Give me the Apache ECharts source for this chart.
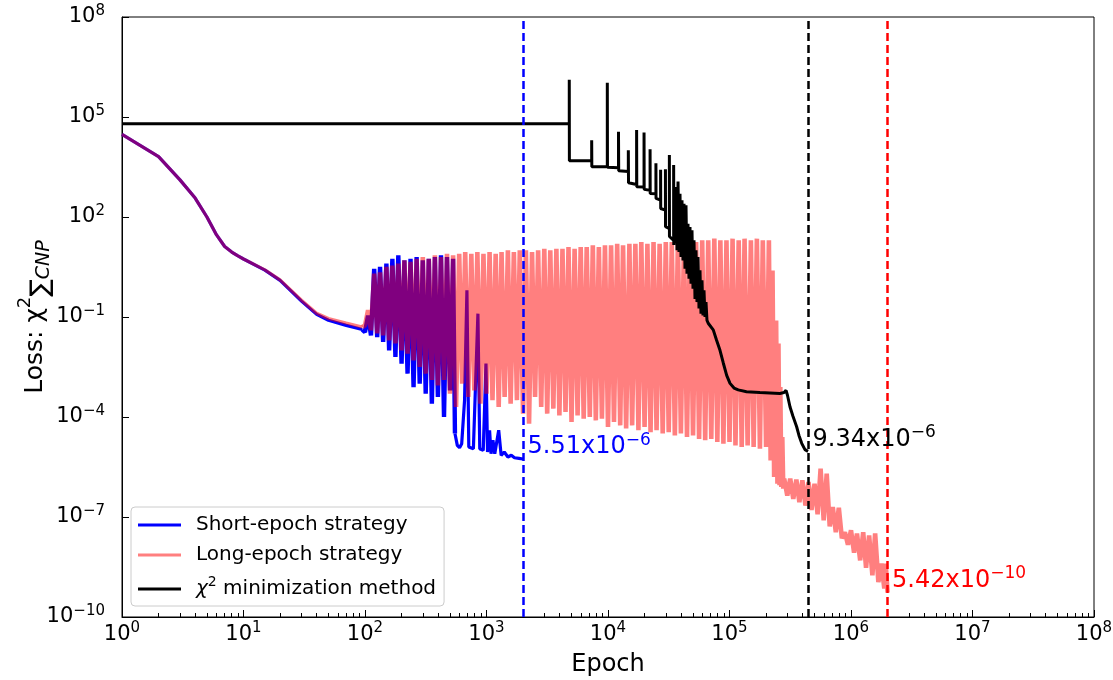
<!DOCTYPE html>
<html><head><meta charset="utf-8">
<script src="https://cdn.jsdelivr.net/npm/echarts@6/dist/echarts.min.js"></script>
<style>html,body{margin:0;padding:0;background:#fff}#c{width:1113px;height:680px}</style>
</head><body><div id="c"></div><script>
// ---------- data ----------
const xMajorTicks = [1, 10, 100, 1e3, 1e4, 1e5, 1e6, 1e7, 1e8];
const yMajorTicks = [1e-10, 1e-7, 1e-4, 1e-1, 1e2, 1e5, 1e8];
const seriesNames = ['Short-epoch strategy', 'Long-epoch strategy', 'χ² minimization method'];

const shortEpoch = [
  [1,3.0e4],[2,6.5e3],[3,1.3e3],[4,370],[5,100],[6,29],[7,13],[8,8.9],[9,6.8],[10,5.5],
  [15,2.55],[20,1.25],[30,0.3],[40,0.12],[50,0.08],[70,0.056],[95,0.042],
  [100,0.035],[106,0.11],[112,0.028],[119,2.8],[126,0.025],[133,3.2],[141,0.018],[150,4.0],
  [158,0.01],[168,5.6],[178,0.0063],[188,7.1],[200,0.004],[211,5.0],[224,0.002],[237,5.6],
  [251,7.9e-4],[266,6.3],[282,1.0e-3],[299,5.0],[316,5.0e-4],[335,5.6],[355,2.5e-4],[376,6.3],
  [398,4.0e-4],[422,7.1],[447,1.0e-4],[473,6.3],[501,6.3e-4],[531,5.6],
  [550,3.2e-5],[575,1.41e-5],[600,1.2e-5],[625,1.58e-5],[660,3.2e-4],[690,0.63],[715,1.26e-5],
  [780,1.12e-5],[850,0.126],[880,1.12e-5],[940,1.0e-5],[990,4.0e-3],[1020,8.9e-6],[1060,4.0e-5],
  [1090,7.9e-6],[1130,2.0e-5],[1170,7.9e-6],[1260,4.0e-5],[1320,7.1e-6],[1400,8.9e-6],[1500,6.3e-6],
  [1600,7.1e-6],[1700,6.0e-6],[1850,5.75e-6],[2000,5.51e-6]
];

const longEpoch = [
  [1,3.0e4],[2,6.5e3],[3,1.3e3],[4,370],[5,100],[6,29],[7,13],[8,8.9],[9,6.8],[10,5.5],
  [15,2.6],[20,1.3],[30,0.32],[40,0.13],[50,0.09],[70,0.066],[95,0.05],
  [100,0.056],[106,0.16],[112,0.04],[119,2.0],[126,0.032],[133,2.2],[141,0.028],[150,3.2],
  [158,0.02],[168,3.5],[178,0.016],[188,4.0],[200,0.01],[211,5.0],[224,0.0079],[237,4.5],
  [251,0.005],[266,5.6],[282,0.0032],[299,6.3],[316,0.002],[335,5.6],[355,0.0013],[376,7.1],
  [398,8.9e-4],[422,6.3],[447,1.3e-3],[473,7.9],[501,5.0e-4],[531,7.1],[562,2.0e-4],[596,7.9],
  [631,1.0e-3],[668,8.9],[708,4.0e-4],[750,7.9],[794,6.3e-4],[841,8.9],[891,2.5e-4],[944,7.9],
  [1000,5.0e-4],[1060,8.9],[1120,3.2e-4],[1190,7.9],[1260,2.0e-4],[1330,8.9],[1410,4.0e-4],[1500,10],
  [1580,2.5e-4],[1680,8.9],[1780,3.2e-4],[1880,10],[2000,1.26e-4],[2110,10],[2240,6.3e-5],[2370,8.9],
  [2510,4.0e-4],[2660,10],[2820,2.0e-4],[2990,11.2],[3160,1.26e-4],[3350,10],[3550,1.78e-4],[3760,11.2],
  [3980,1.12e-4],[4220,11.2],[4470,1.41e-4],[4730,12.6],[5010,7.1e-5],[5310,11.2],[5620,1.12e-4],[5960,12.6],
  [6310,8.9e-5],[6680,12.6],[7080,1.0e-4],[7500,14.1],[7940,7.9e-5],[8410,12.6],[8910,8.9e-5],[9440,14.1],
  [10000,5.0e-5],[10600,14.1],[11200,7.1e-5],[11900,15.8],[12600,5.6e-5],[13300,14.1],[14100,4.5e-5],[15000,15.8],
  [15800,5.6e-5],[16800,15.8],[17800,4.0e-5],[18800,17.8],[20000,5.0e-5],[21100,15.8],[22400,3.5e-5],[23700,17.8],
  [25100,4.0e-5],[26600,15.8],[28200,3.2e-5],[29900,17.8],[31600,3.5e-5],[33500,17.8],[35500,2.8e-5],[37600,20],
  [39800,3.2e-5],[42200,17.8],[44700,2.5e-5],[47300,20],[50100,2.8e-5],[53100,17.8],[56200,2.2e-5],[59600,20],
  [63100,2.0e-5],[66800,20],[70800,2.2e-5],[75000,22.4],[79400,1.78e-5],[84100,20],[89100,1.58e-5],[94400,20],
  [100000,1.78e-5],[106000,22.4],[112000,1.41e-5],[119000,20],[126000,1.26e-5],[133000,22.4],[141000,1.41e-5],[150000,20],
  [158000,1.26e-5],[168000,22.4],[178000,1.12e-5],[188000,20],[200000,1.26e-5],[211000,20],
  [218000,5.0e-6],[226000,2.5],[233000,1.58e-6],[242000,0.079],[248000,1.0e-6],[253000,0.016],[258000,8.9e-7],
  [262000,7.9e-4],[267000,7.9e-7],[272000,2.5e-5],[277000,7.1e-7],[282000,1.41e-6],
  [299000,4.4e-7],[316000,1.41e-6],[335000,3.5e-7],[355000,1.32e-6],[376000,2.8e-7],[398000,1.26e-6],
  [422000,2.2e-7],[447000,1.12e-6],[473000,1.62e-7],[501000,1.0e-6],[531000,1.2e-7],[562000,2.8e-6],
  [596000,7.9e-8],[631000,2.0e-6],[668000,5.2e-8],[708000,2.0e-7],[750000,3.5e-8],[794000,1.9e-7],
  [841000,2.3e-8],[891000,3.5e-8],[944000,1.48e-8],[1000000,4.0e-8],[1060000,8.5e-9],[1120000,3.2e-8],
  [1190000,5.0e-9],[1260000,3.5e-8],[1330000,3.0e-9],[1410000,2.8e-8],[1500000,1.78e-9],[1580000,3.2e-8],
  [1680000,1.12e-9],[1780000,4.0e-9],[1880000,7.2e-10],[1930000,4.0e-9],[2000000,5.42e-10]
];

const chi2Method = [
  [1,6.3e4],[4800,6.3e4],[4800,1.3e6],[4810,4.9e3],
  [7340,4.9e3],[7340,2.0e4],[7360,3.2e3],
  [9870,3.2e3],[9870,1.07e6],[9900,3.1e3],
  [12200,3.0e3],[12200,3.6e4],[12250,2.45e3],
  [14700,2.3e3],[14700,1.0e4],[14750,1.07e3],
  [17200,950],[17200,4.1e4],[17250,810],
  [19800,790],[19800,3.4e4],[19850,680],
  [22200,630],[22200,1.07e4],[22250,510],
  [24800,500],[24800,4.1e3],[24850,360],
  [27100,320],[27100,2.6e3],[27150,180],
  [29700,160],[29700,2.7e3],[29750,51],
  [32000,45],[32000,7.2e3],[32050,26],
  [34700,20],[34700,3.6e3],[34800,14.5],
  [36300,790],[37000,10],[37700,1150],[38400,8.9],[39140,500],[39880,6.3],[40650,316],[41430,5.0],
  [42220,250],[43020,2.8],[43850,224],[44690,2.0],[45540,63],[46420,1.41],[47300,50],[48210,1.0],
  [49130,40],[50070,0.71],[51030,20],[52000,0.35],[53000,10],[54010,0.28],[55040,6.3],[56100,0.18],
  [57170,2.5],[58260,0.126],[59380,1.26],[60510,0.112],[61670,0.63],[62850,0.1],[64050,0.28],[65270,0.079],
  [66800,0.065],[73500,0.041],[78300,0.02],[83500,0.01],[89000,4.1e-3],[94800,1.78e-3],[101000,1.02e-3],
  [109000,7.4e-4],[118000,6.5e-4],[138000,5.75e-4],[178000,5.4e-4],[260000,5.1e-4],[281000,5.4e-4],
  [292000,6.3e-4],[300000,4.5e-4],[315000,2.0e-4],[333000,1.05e-4],[357000,5.1e-5],[373000,2.8e-5],
  [393000,1.62e-5],[418000,1.05e-5],[443000,9.34e-6]
];

// final epochs / losses marked by the dashed lines and annotations
const finalEpochs = [2000, 443000, 2000000];
const finalLosses = [5.51e-6, 9.34e-6, 5.42e-10];
const seriesColors = ['#0000ff', 'rgba(255,0,0,0.5)', '#000000'];
const markColors = ['#0000ff', '#000000', '#ff0000'];

// ---------- chart ----------
const FONT = 'DejaVu Sans';
function supLabel(base, exp) {
  const e = exp < 0 ? '−' + (-exp) : String(exp);
  return '{b|' + base + '}{s|' + e + '}';
}
const tickRich = {
  b: { fontSize: 21, lineHeight: 27, fontFamily: FONT, color: '#000' },
  s: { fontSize: 15, lineHeight: 15, verticalAlign: 'top', fontFamily: FONT, color: '#000' }
};
const xMinorTicks = [];
for (let d = 0; d < 8; d++) for (let m = 2; m <= 9; m++) xMinorTicks.push(m * Math.pow(10, d));

// smooth start / dense oscillating part (heavier stroke) / tail
const shortStart = shortEpoch.slice(0, 17);
const shortOsc = shortEpoch.slice(16, 48);
const shortTail = shortEpoch.slice(47);
const longStart = longEpoch.slice(0, 17);
const longOsc = longEpoch.slice(16);

const markLineData = finalEpochs.map((e, i) => ({
  xAxis: e, lineStyle: { color: markColors[i], type: [8, 4], width: 2.5 }
}));
const markPointData = finalEpochs.map((e, i) => {
  const parts = finalLosses[i].toExponential(2).split('e');
  return {
    coord: [e, finalLosses[i]],
    symbol: 'circle', symbolSize: 1, itemStyle: { color: 'rgba(0,0,0,0)' },
    label: {
      show: true, position: 'right', distance: 4, offset: [0, -12],
      formatter: supLabel(parts[0] + 'x10', parseInt(parts[1], 10)),
      rich: {
        b: { fontSize: 24, lineHeight: 30, fontFamily: FONT, color: markColors[i] },
        s: { fontSize: 17, lineHeight: 17, verticalAlign: 'top', fontFamily: FONT, color: markColors[i] }
      }
    }
  };
});

function lineSeries(name, data, color, width, extra) {
  return Object.assign({
    name: name, type: 'line', data: data, showSymbol: false, symbol: 'none',
    lineStyle: { color: color, width: width }, itemStyle: { color: color }, z: 2
  }, extra || {});
}

const chart = echarts.init(document.getElementById('c'), null, { renderer: 'canvas' });
chart.setOption({
  animation: false,
  backgroundColor: '#ffffff',
  grid: { left: 122, right: 19, top: 17, bottom: 63, containLabel: false, outerBoundsMode: 'none',
    show: true, borderColor: '#000', borderWidth: 1, backgroundColor: 'transparent' },
  legend: {
    left: 131, top: 507, orient: 'vertical', icon: 'rect',
    padding: [8, 8, 7, 7], itemGap: 10, itemWidth: 43, itemHeight: 3,
    backgroundColor: 'rgba(255,255,255,0.8)', borderColor: '#cccccc', borderWidth: 1, borderRadius: 4,
    formatter: name => name === seriesNames[2]
      ? '{i|χ}{s|2}{t| minimization method}'
      : '{t|' + name + '}',
    textStyle: {
      fontSize: 20, fontFamily: FONT, color: '#000', padding: [0, 0, 0, 10],
      rich: {
        t: { fontSize: 20, lineHeight: 24, fontFamily: FONT, color: '#000' },
        i: { fontSize: 20, lineHeight: 28, fontStyle: 'italic', fontFamily: FONT, color: '#000' },
        s: { fontSize: 14, lineHeight: 14, verticalAlign: 'top', fontFamily: FONT, color: '#000' }
      }
    },
    data: seriesNames
  },
  xAxis: [{
    type: 'log', logBase: 10, min: 1, max: 1e8, position: 'bottom',
    axisLine: { show: true, lineStyle: { color: '#000', width: 1 } },
    axisTick: { show: true, inside: true, length: 7, customValues: xMajorTicks, lineStyle: { color: '#000', width: 1 } },
    axisLabel: { customValues: xMajorTicks, margin: 4, formatter: v => supLabel('10', Math.round(Math.log10(v))), rich: tickRich },
    splitLine: { show: false },
    name: 'Epoch', nameLocation: 'middle', nameGap: 36, nameMoveOverlap: false,
    nameTextStyle: { fontSize: 24, fontFamily: FONT, color: '#000' }
  }, {
    type: 'log', logBase: 10, min: 1, max: 1e8, position: 'bottom', gridIndex: 0,
    axisLine: { show: false },
    axisTick: { show: true, inside: true, length: 4, customValues: xMinorTicks, lineStyle: { color: '#000', width: 1 } },
    axisLabel: { show: false },
    splitLine: { show: false }
  }],
  yAxis: {
    type: 'log', logBase: 10, min: 1e-10, max: 1e8,
    axisLine: { show: true, lineStyle: { color: '#000', width: 1 } },
    axisTick: { show: true, inside: true, length: 7, customValues: yMajorTicks, lineStyle: { color: '#000', width: 1 } },
    axisLabel: { customValues: yMajorTicks, margin: 17, formatter: v => supLabel('10', Math.round(Math.log10(v))), rich: tickRich },
    splitLine: { show: false },
    name: '{b|Loss: χ}{s|2}{m|∑}{c|CNP}', nameLocation: 'middle', nameGap: 68, nameRotate: 90,
    nameMoveOverlap: false,
    nameTextStyle: {
      color: '#000', fontFamily: FONT,
      rich: {
        b: { fontSize: 25, lineHeight: 38, fontFamily: FONT, color: '#000' },
        s: { fontSize: 18, lineHeight: 18, verticalAlign: 'top', fontFamily: FONT, color: '#000' },
        m: { fontSize: 26, lineHeight: 26, verticalAlign: 'bottom', fontFamily: FONT, color: '#000' },
        c: { fontSize: 19, lineHeight: 18, verticalAlign: 'bottom', fontStyle: 'italic', fontFamily: FONT, color: '#000' }
      }
    }
  },
  series: [
    lineSeries(seriesNames[0], shortStart, seriesColors[0], 3.2),
    lineSeries(seriesNames[0], shortOsc, seriesColors[0], 4.4),
    lineSeries(seriesNames[0], shortTail, seriesColors[0], 3.2),
    lineSeries(seriesNames[1], longStart, seriesColors[1], 3.2),
    lineSeries(seriesNames[1], longOsc, seriesColors[1], 4.6),
    lineSeries(seriesNames[2], chi2Method, seriesColors[2], 3, {
      markLine: { silent: true, symbol: ['none', 'none'], label: { show: false }, animation: false, data: markLineData },
      markPoint: { silent: true, animation: false, data: markPointData }
    })
  ]
});
</script></body></html>
